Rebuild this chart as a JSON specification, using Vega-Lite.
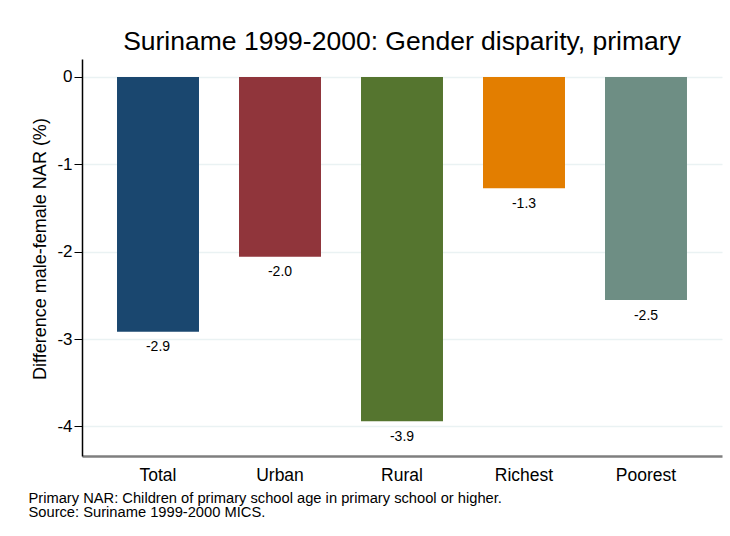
{
  "$schema": "https://vega.github.io/schema/vega-lite/v6.json",
  "width": 640,
  "height": 397,
  "autosize": {"type": "none"},
  "padding": {"left": 82, "top": 59, "right": 8, "bottom": 80},
  "background": "white",
  "config": {"font": "Liberation Sans", "view": {"stroke": null}},
  "title": {
    "text": "Suriname 1999-2000: Gender disparity, primary",
    "font": "Liberation Sans",
    "fontSize": 26.5,
    "fontWeight": "normal",
    "color": "#000000",
    "anchor": "middle",
    "baseline": "alphabetic",
    "offset": -17
  },
  "data": {
    "values": [
      {"group": "Total", "value": -2.915, "label": "-2.9"},
      {"group": "Urban", "value": -2.057, "label": "-2.0"},
      {"group": "Rural", "value": -3.94, "label": "-3.9"},
      {"group": "Richest", "value": -1.275, "label": "-1.3"},
      {"group": "Poorest", "value": -2.553, "label": "-2.5"}
    ]
  },
  "encoding": {
    "x": {
      "field": "group",
      "type": "nominal",
      "sort": null,
      "scale": {"paddingInner": 0.328, "paddingOuter": 0.287},
      "axis": {
        "orient": "bottom",
        "labelAngle": 0,
        "labelFontSize": 17.5,
        "labelColor": "#000000",
        "labelPadding": 10,
        "ticks": false,
        "domainColor": "#7f7f7f",
        "domainWidth": 2.5,
        "title": ["Primary NAR: Children of primary school age in primary school or higher.", "Source: Suriname 1999-2000 MICS."],
        "titleFontSize": 14.7,
        "titleFontWeight": "normal",
        "titleColor": "#000000",
        "titleLineHeight": 14.5,
        "titleAlign": "left",
        "titleBaseline": "top",
        "titleX": -54,
        "titleY": 34
      }
    },
    "y": {
      "field": "value",
      "type": "quantitative",
      "scale": {"domain": [-4.338, 0.205], "nice": false, "zero": false},
      "axis": {
        "values": [0, -1, -2, -3, -4],
        "labelExpr": "'' + datum.value",
        "labelFontSize": 17,
        "labelColor": "#000000",
        "labelPadding": 2,
        "tickSize": 8,
        "tickColor": "#000000",
        "tickWidth": 1,
        "domainColor": "#000000",
        "domainWidth": 1.5,
        "grid": true,
        "gridColor": "#eaf2f3",
        "gridWidth": 1.5,
        "title": "Difference male-female NAR (%)",
        "titleFontSize": 18,
        "titleFontWeight": "normal",
        "titleColor": "#000000",
        "titlePadding": 7,
        "titleY": 189.5
      }
    }
  },
  "layer": [
    {
      "mark": {"type": "bar"},
      "encoding": {
        "y2": {"datum": 0},
        "color": {
          "field": "group",
          "type": "nominal",
          "scale": {
            "domain": ["Total", "Urban", "Rural", "Richest", "Poorest"],
            "range": ["#1a476f", "#90353b", "#55752f", "#e37e00", "#6e8e84"]
          },
          "legend": null
        }
      }
    },
    {
      "mark": {"type": "text", "baseline": "middle", "dy": 15.5, "fontSize": 14, "color": "#000000"},
      "encoding": {"text": {"field": "label"}}
    }
  ]
}
